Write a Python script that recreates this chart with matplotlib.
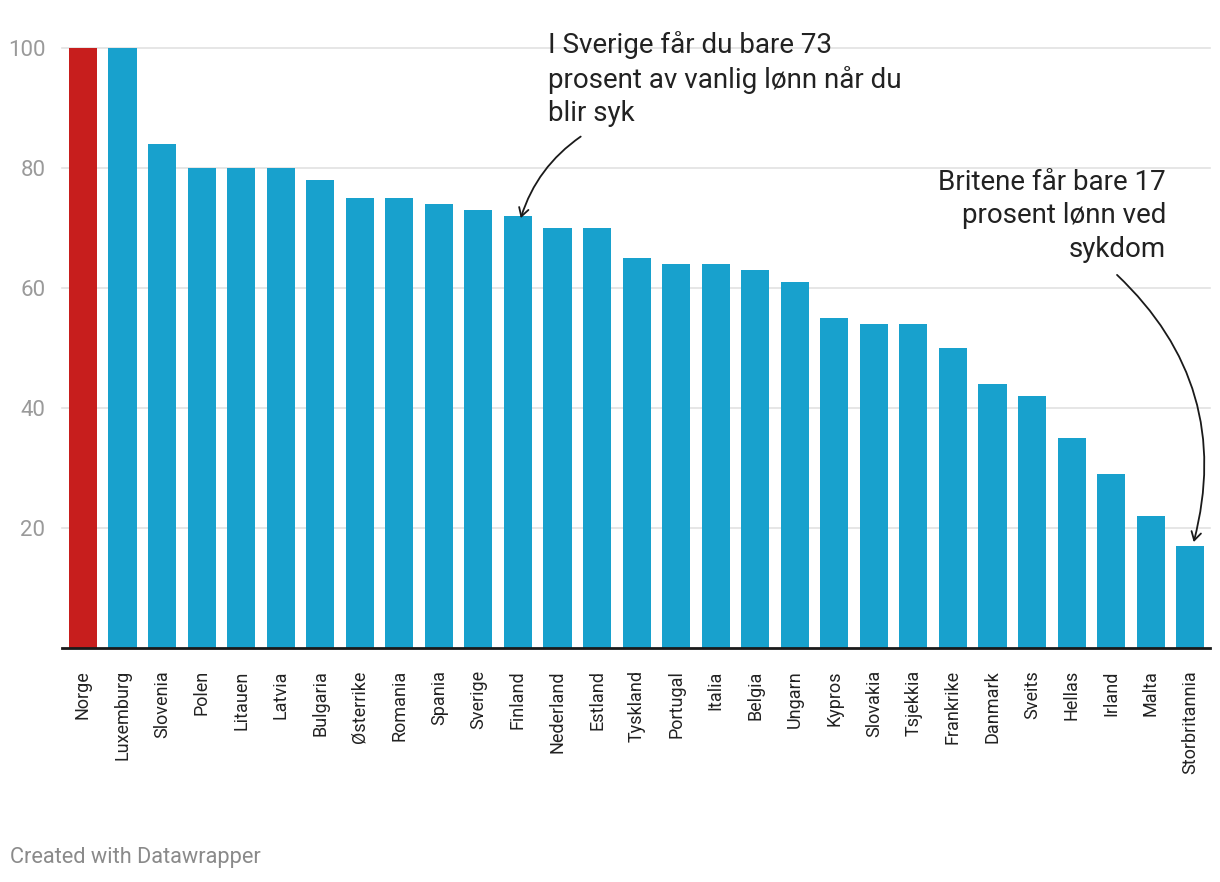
import matplotlib
matplotlib.use("Agg")
import matplotlib.pyplot as plt

countries = ["Norge", "Luxemburg", "Slovenia", "Polen", "Litauen", "Latvia", "Bulgaria",
             "Østerrike", "Romania", "Spania", "Sverige", "Finland", "Nederland", "Estland",
             "Tyskland", "Portugal", "Italia", "Belgia", "Ungarn", "Kypros", "Slovakia",
             "Tsjekkia", "Frankrike", "Danmark", "Sveits", "Hellas", "Irland", "Malta",
             "Storbritannia"]
values = [100, 100, 84, 80, 80, 80, 78, 75, 75, 74, 73, 72, 70, 70, 65, 64, 64, 63, 61,
          55, 54, 54, 50, 44, 42, 35, 29, 22, 17]
yticks = [20, 40, 60, 80, 100]

plt.rcParams['font.family'] = ['Roboto', 'DejaVu Sans']

W, H = 1220, 882
fig = plt.figure(figsize=(W / 100, H / 100), dpi=100)
ax = fig.add_axes([62 / W, (H - 648) / H, (1210 - 62) / W, 600 / H])

colors = ["#c71e1d"] + ["#18a1cd"] * (len(countries) - 1)
x = list(range(len(countries)))
ax.bar(x, values, width=0.71, color=colors, zorder=2)

ax.set_xlim(-0.53, len(countries) - 0.5)
ax.set_ylim(0, 100)
ax.set_yticks(yticks)
ax.set_yticklabels([str(v) for v in yticks], fontsize=16, color="#9a9a9a")
for v in yticks:
    ax.axhline(v, color="#e2e2e2", lw=1.2, zorder=1, clip_on=False)
ax.tick_params(axis="y", length=0, pad=12)
ax.set_xticks(x)
ax.set_xticklabels(countries, rotation=90, fontsize=13, color="#222222", va="top")
ax.tick_params(axis="x", length=0, pad=16)
for s in ["top", "right", "left"]:
    ax.spines[s].set_visible(False)
ax.spines["bottom"].set_color("#1a1a1a")
ax.spines["bottom"].set_linewidth(2)
ax.spines["bottom"].set_zorder(3)

# annotations
ax.annotate("", xy=(11.05, 71.2), xycoords="data",
            xytext=(583 / W, 1 - 135 / H), textcoords="figure fraction",
            arrowprops=dict(arrowstyle="->,head_length=0.6,head_width=0.35", color="#1a1a1a",
                            lw=1.3, connectionstyle="arc3,rad=0.18"))
fig.text(548 / W, 1 - 31 / H, "I Sverige får du bare 73\nprosent av vanlig lønn når du\nblir syk",
         fontsize=20, color="#222222", ha="left", va="top", linespacing=1.3)

ax.annotate("", xy=(28.07, 17.2), xycoords="data",
            xytext=(1115 / W, 1 - 273 / H), textcoords="figure fraction",
            arrowprops=dict(arrowstyle="->,head_length=0.6,head_width=0.35", color="#1a1a1a",
                            lw=1.3, connectionstyle="arc3,rad=-0.3"))
fig.text(1166 / W, 1 - 169 / H, "Britene får bare 17\nprosent lønn ved\nsykdom",
         fontsize=20, color="#222222", ha="right", va="top", linespacing=1.3)

fig.text(10 / W, 1 - 858 / H, "Created with Datawrapper", fontsize=15.7, color="#8a8a8a",
         ha="left", va="center")

fig.savefig("out.png", dpi=100, facecolor="white")
